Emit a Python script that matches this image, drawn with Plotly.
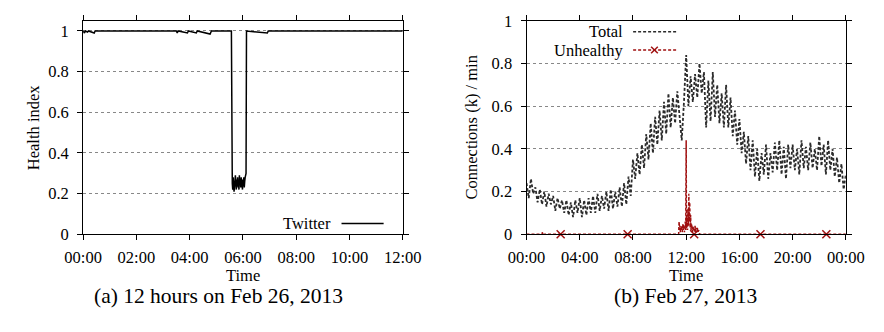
import plotly.graph_objects as go

# ---------------- data ----------------
# (a) Twitter health index, Feb 26 2013 (minutes since 00:00)
twitter_minutes = [0, 3, 5, 10, 12, 25, 27, 210, 212, 214, 235, 237, 255, 257, 286, 289, 334,
                   335, 336, 337, 338, 339, 340, 341, 342, 343, 344, 345, 346, 347, 348, 349, 350,
                   351, 352, 353, 354, 355, 356, 357, 358, 359, 360, 361, 362, 363, 364, 365, 366, 367,
                   368, 415, 417, 720]
twitter_values = [1, 0.99, 1, 0.995, 1, 0.99, 1, 1, 0.99, 1, 0.99, 1, 0.99, 1, 0.985, 1, 1,
                  0.27, 0.25, 0.22, 0.28, 0.24, 0.21, 0.27, 0.23, 0.29, 0.25, 0.22, 0.27, 0.24, 0.28, 0.23, 0.26,
                  0.22, 0.29, 0.25, 0.27, 0.23, 0.28, 0.24, 0.26, 0.22, 0.27, 0.25, 0.28, 0.23, 0.26, 0.28, 0.29, 0.30,
                  1, 0.99, 1, 1]

# (b) Feb 27 2013, connections (k) per minute, sampled every 10 minutes
total_minutes = list(range(0, 1441, 10))
total_values = [
    0.24, 0.17, 0.26, 0.19, 0.22, 0.15,   # 00h
    0.21, 0.14, 0.20, 0.13, 0.19, 0.14,   # 01h
    0.18, 0.11, 0.17, 0.12, 0.16, 0.10,   # 02h
    0.16, 0.09, 0.15, 0.08, 0.16, 0.10,   # 03h
    0.17, 0.08, 0.16, 0.09, 0.17, 0.10,   # 04h
    0.18, 0.10, 0.19, 0.11, 0.18, 0.12,   # 05h
    0.20, 0.11, 0.21, 0.12, 0.20, 0.13,   # 06h
    0.22, 0.13, 0.24, 0.14, 0.27, 0.18,   # 07h
    0.35, 0.26, 0.38, 0.28, 0.42, 0.31,   # 08h
    0.47, 0.35, 0.52, 0.38, 0.55, 0.42,   # 09h
    0.58, 0.44, 0.62, 0.47, 0.66, 0.50,   # 10h
    0.64, 0.52, 0.67, 0.55, 0.44, 0.62,   # 11h
    0.84, 0.60, 0.74, 0.62, 0.75, 0.64,   # 12h
    0.80, 0.66, 0.76, 0.50, 0.72, 0.53,   # 13h
    0.76, 0.55, 0.70, 0.52, 0.66, 0.50,   # 14h
    0.70, 0.50, 0.64, 0.46, 0.58, 0.42,   # 15h
    0.54, 0.38, 0.48, 0.33, 0.46, 0.30,   # 16h
    0.44, 0.27, 0.40, 0.25, 0.38, 0.28,   # 17h
    0.42, 0.26, 0.38, 0.29, 0.43, 0.30,   # 18h
    0.44, 0.28, 0.41, 0.26, 0.42, 0.31,   # 19h
    0.42, 0.30, 0.40, 0.28, 0.44, 0.31,   # 20h
    0.41, 0.30, 0.43, 0.31, 0.40, 0.30,   # 21h
    0.46, 0.32, 0.42, 0.28, 0.44, 0.30,   # 22h
    0.40, 0.27, 0.36, 0.24, 0.33, 0.21,   # 23h
    0.28,
]

unhealthy_minutes = [0, 70, 72, 74, 686, 688, 690, 692, 694, 696, 698, 700, 702, 704, 706, 708, 710,
                     712, 714, 716, 718, 720, 721, 722, 724, 726, 728, 730, 732, 734, 736, 738, 740,
                     742, 744, 746, 748, 750, 752, 754, 756, 758, 760, 762, 764, 766, 768, 770, 772,
                     774, 776, 778, 780, 1440]
unhealthy_values = [0, 0, 0.01, 0, 0, 0.06, 0.02, 0.04, 0.01, 0.03, 0.02, 0.04, 0.01, 0.03, 0.05, 0.02, 0.03,
                    0.01, 0.04, 0.06, 0.02, 0.44, 0.05, 0.03, 0.08, 0.02, 0.12, 0.04, 0.19, 0.06, 0.15, 0.03, 0.09,
                    0.02, 0.05, 0.03, 0.01, 0.04, 0.02, 0.03, 0.01, 0.02, 0.04, 0.01, 0.03, 0.02, 0.01, 0.03, 0.02,
                    0.01, 0.02, 0.00, 0, 0]
unhealthy_marker_minutes = [154, 456, 756, 1055, 1352]
unhealthy_marker_values = [0, 0, 0, 0, 0]

left_tick_hours = [0, 2, 4, 6, 8, 10, 12]
left_tick_labels = ["00:00", "02:00", "04:00", "06:00", "08:00", "10:00", "12:00"]
right_tick_hours = [0, 4, 8, 12, 16, 20, 24]
right_tick_labels = ["00:00", "04:00", "08:00", "12:00", "16:00", "20:00", "00:00"]
y_ticks = [0, 0.2, 0.4, 0.6, 0.8, 1]
y_tick_labels = ["0", "0.2", "0.4", "0.6", "0.8", "1"]

# ---------------- figure ----------------
W, H = 884, 332
FONT = "Liberation Serif, Tinos, Times New Roman, Times, DejaVu Serif, serif"
FS = 16.5
GRAY = "#2b2b2b"
RED = "#a01010"

def px(x):
    return x / W

def py(y):
    return 1 - y / H

fig = go.Figure()

fig.add_trace(go.Scatter(
    x=[m / 60 for m in twitter_minutes], y=twitter_values, mode="lines",
    line=dict(color="black", width=1.5), xaxis="x", yaxis="y", showlegend=False))

fig.add_trace(go.Scatter(
    x=[m / 60 for m in total_minutes], y=total_values, mode="lines",
    line=dict(color=GRAY, width=1.8, dash="3px,2px"), xaxis="x2", yaxis="y2", showlegend=False))

fig.add_trace(go.Scatter(
    x=[m / 60 for m in unhealthy_minutes], y=unhealthy_values, mode="lines",
    line=dict(color=RED, width=1.5, dash="3px,2px"), xaxis="x2", yaxis="y2", showlegend=False,
    cliponaxis=False))

fig.add_trace(go.Scatter(
    x=[m / 60 for m in unhealthy_marker_minutes], y=unhealthy_marker_values, mode="markers",
    marker=dict(symbol="x-thin", size=8, line=dict(color=RED, width=1.5)),
    xaxis="x2", yaxis="y2", showlegend=False, cliponaxis=False))

ydom = [py(239), py(12.5)]
axis_common = dict(
    showline=True, linecolor="black", linewidth=1, mirror="allticks",
    ticks="outside", ticklen=5, tickcolor="black", tickwidth=1,
    tickfont=dict(family=FONT, size=FS, color="black"),
    zeroline=False,
)

fig.update_layout(
    width=W, height=H, margin=dict(l=0, r=0, t=0, b=0),
    paper_bgcolor="white", plot_bgcolor="white",
    font=dict(family=FONT, size=FS, color="black"),
    xaxis=dict(domain=[px(67), px(401)], range=[0, 12], tickmode="array",
               tickvals=left_tick_hours, ticktext=left_tick_labels, showgrid=False,
               anchor="y", ticklabelstandoff=3, **axis_common),
    yaxis=dict(domain=ydom, range=[0, 1.05], tickmode="array",
               tickvals=y_ticks, ticktext=y_tick_labels, showgrid=True,
               gridcolor="#888888", griddash="dot", gridwidth=1, anchor="x",
               ticklabelstandoff=5, **axis_common),
    xaxis2=dict(domain=[px(530.3), px(864)], range=[0, 24], tickmode="array",
                tickvals=right_tick_hours, ticktext=right_tick_labels, showgrid=False,
                anchor="y2", ticklabelstandoff=3, **axis_common),
    yaxis2=dict(domain=ydom, range=[0, 1], tickmode="array",
                tickvals=y_ticks, ticktext=y_tick_labels, showgrid=True,
                gridcolor="#888888", griddash="dot", gridwidth=1, anchor="x2",
                ticklabelstandoff=5, **axis_common),
)

ann = []
def text(x, y, s, size=FS, xanchor="center", angle=0, family=FONT):
    ann.append(dict(x=px(x), y=py(y), xref="paper", yref="paper", text=s, showarrow=False,
                    xanchor=xanchor, yanchor="middle", textangle=angle, borderpad=0,
                    font=dict(family=family, size=size, color="black")))

text(15, 125, "Health index", angle=-90)
text(473, 126, "Connections (k) / min", angle=-90)
text(234, 283, "Time")
text(697, 283, "Time")
text(208, 304, "(a) 12 hours on Feb 26, 2013", size=21.5)
text(696, 304, "(b) Feb 27, 2013", size=21.5)
# legends (gnuplot style: label left of sample)
text(327.5, 227.5, "Twitter", xanchor="right")
text(631.7, 24, "Total", xanchor="right")
text(631.7, 43.5, "Unhealthy", xanchor="right")
fig.update_layout(annotations=ann)

shapes = [
    dict(type="line", xref="paper", yref="paper", x0=px(337), x1=px(381), y0=py(227.5), y1=py(227.5),
         line=dict(color="black", width=1.5)),
    dict(type="line", xref="paper", yref="paper", x0=px(641.7), x1=px(686.7), y0=py(24), y1=py(24),
         line=dict(color=GRAY, width=1.5, dash="3px,2px")),
    dict(type="line", xref="paper", yref="paper", x0=px(641.7), x1=px(686.7), y0=py(43.5), y1=py(43.5),
         line=dict(color=RED, width=1.5, dash="3px,2px")),
    dict(type="line", xref="paper", yref="paper", x0=px(660.5), x1=px(667.5), y0=py(40), y1=py(47),
         line=dict(color=RED, width=1.5)),
    dict(type="line", xref="paper", yref="paper", x0=px(660.5), x1=px(667.5), y0=py(47), y1=py(40),
         line=dict(color=RED, width=1.5)),
]
fig.update_layout(shapes=shapes)

fig.write_html("out.html")
